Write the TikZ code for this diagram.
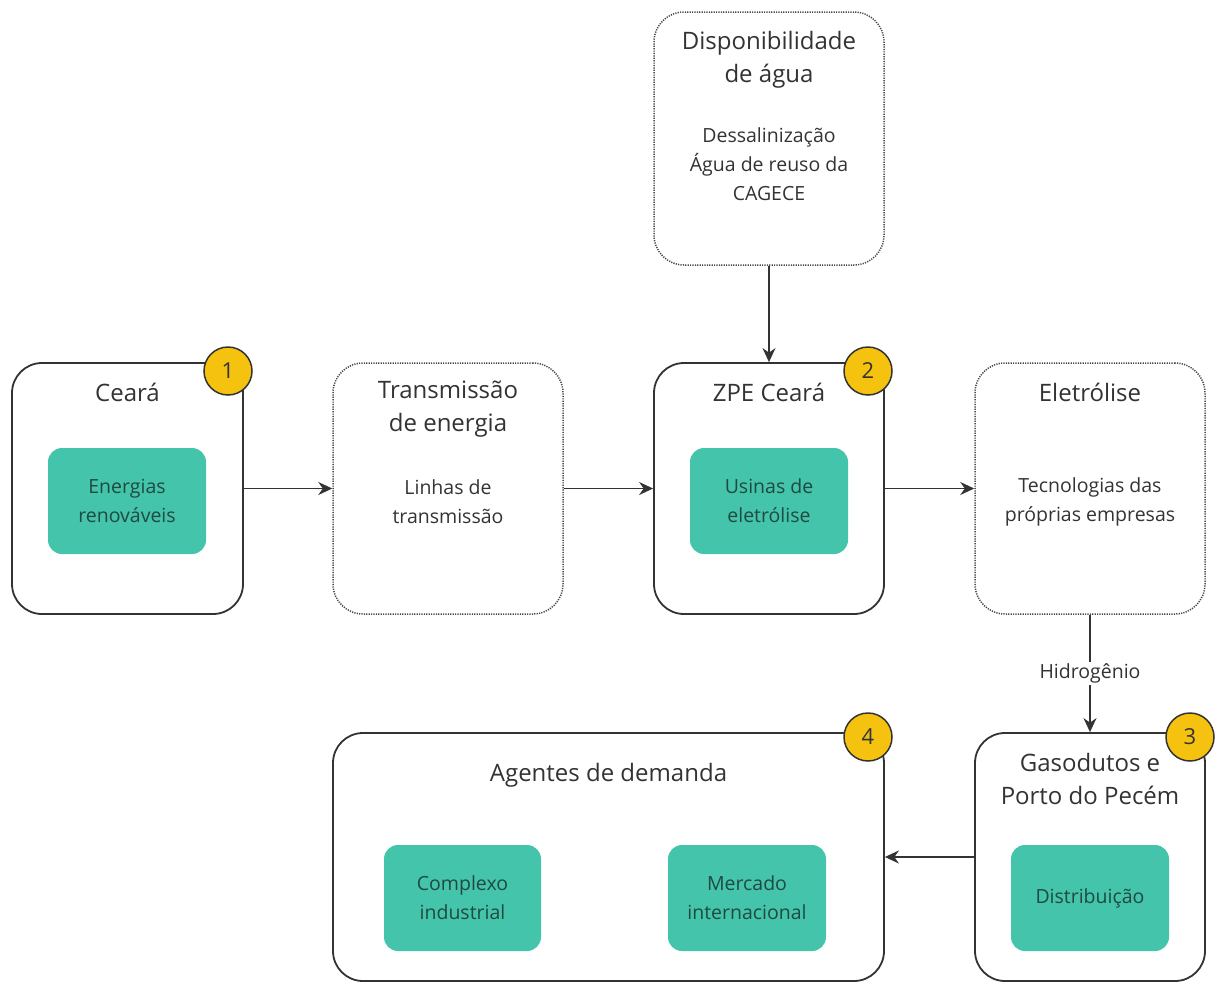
\documentclass[tikz,border=0pt]{standalone}
\usepackage{fontspec}
\setmainfont{Open Sans}
\usepackage{tikz}
\usetikzlibrary{positioning,arrows.meta}

\definecolor{linegray}{HTML}{333333}
\definecolor{tealfill}{HTML}{44C4AA}
\definecolor{tealtext}{HTML}{1F4A42}
\definecolor{badge}{HTML}{F5C30F}

\tikzset{
	stage/.style={draw=linegray, line width=1.8pt, rounded corners=30pt, fill=white},
	stagedot/.style={draw=linegray!90, line width=1.5pt, dash pattern=on 1.2pt off 1.2pt, rounded corners=30pt, fill=white},
	inner/.style={fill=tealfill, rounded corners=14pt, minimum width=158pt, minimum height=106pt, align=center, text=tealtext, font=\fontsize{19.5}{29}\selectfont},
	title/.style={align=center, text=linegray, font=\fontsize{24}{33}\selectfont},
	body/.style={align=center, text=linegray, font=\fontsize{19.5}{29}\selectfont},
	num/.style={circle, draw=linegray, line width=1.5pt, fill=badge, minimum size=48pt, inner sep=0pt, text=linegray, font=\fontsize{22}{22}\selectfont},
	flow/.style={-{Stealth[length=14pt,width=13pt]}, draw=linegray, line width=1.7pt}
}

\begin{document}
\begin{tikzpicture}[x=1pt,y=-1pt]
	\useasboundingbox (0,0) rectangle (1216,983);

	% main boxes
	\node[stage, minimum width=231pt, minimum height=251pt] (ceara) at (127.5,488.5) {};
	\node[stagedot, minimum width=230pt, minimum height=251pt] (trans) at (448,488.5) {};
	\node[stage, minimum width=230pt, minimum height=251pt] (zpe) at (769,488.5) {};
	\node[stagedot, minimum width=230pt, minimum height=251pt] (eletro) at (1090,488.5) {};
	\node[stagedot, minimum width=230pt, minimum height=253pt] (agua) at (769,138.5) {};
	\node[stage, minimum width=230pt, minimum height=248pt] (gas) at (1090,857) {};
	\node[stage, minimum width=551pt, minimum height=248pt] (agentes) at (608.5,857) {};

	% titles and descriptions
	\node[title] (cearatxt) at (127.5,392) {Ceará};
	\node[title] (transtxt) at (448,409) {Transmissão\\de energia};
	\node[body] (translin) at (448,502) {Linhas de\\transmissão};
	\node[title] (zpetxt) at (769,392) {ZPE Ceará};
	\node[title] (eletrotxt) at (1090,392) {Eletrólise};
	\node[body] (eletrotec) at (1090,502) {Tecnologias das\\próprias empresas};
	\node[title] (aguatxt) at (769,59.5) {Disponibilidade\\de água};
	\node[body] (aguafon) at (769,164.5) {Dessalinização\\Água de reuso da\\CAGECE};
	\node[title] (gastxt) at (1090,779) {Gasodutos e\\Porto do Pecém};
	\node[title] (agentestxt) at (608.5,775) {Agentes de demanda};

	% green blocks
	\node[inner] (renov) at (127,501) {Energias\\renováveis};
	\node[inner] (usinas) at (769,501) {Usinas de\\eletrólise};
	\node[inner] (distrib) at (1090,898) {Distribuição};
	\node[inner, minimum width=157pt] (complexo) at (462.5,898) {Complexo\\industrial};
	\node[inner] (mercado) at (747,898) {Mercado\\internacional};

	% numbered badges
	\node[num] (n1) at (228,371) {1};
	\node[num] (n2) at (868,371) {2};
	\node[num] (n3) at (1190,737) {3};
	\node[num] (n4) at (868,737) {4};

	% connectors
	\draw[flow] (ceara) -- (trans);
	\draw[flow] (trans) -- (zpe);
	\draw[flow] (zpe) -- (eletro);
	\draw[flow] (agua) -- (zpe);
	\draw[flow] (eletro) -- node[body, fill=white, inner sep=2pt] {Hidrogênio} (gas);
	\draw[flow] (gas) -- (agentes);
\end{tikzpicture}
\end{document}
